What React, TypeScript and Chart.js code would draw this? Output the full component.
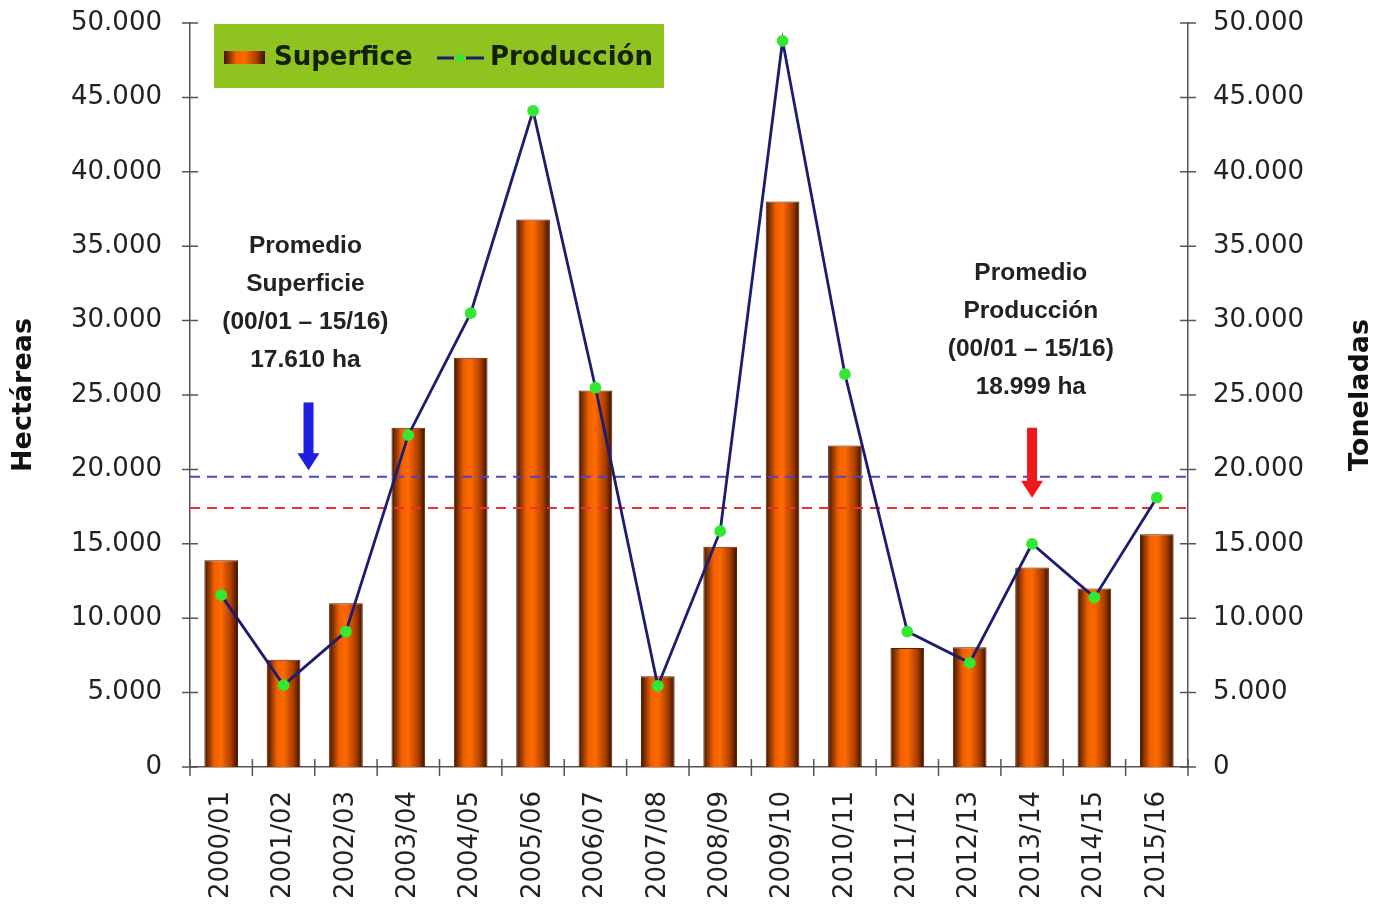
import React, { useEffect, useRef } from "react";
import { Chart, registerables } from "chart.js";

Chart.register(...registerables);

const categories = [
  "2000/01", "2001/02", "2002/03", "2003/04", "2004/05", "2005/06", "2006/07", "2007/08",
  "2008/09", "2009/10", "2010/11", "2011/12", "2012/13", "2013/14", "2014/15", "2015/16",
];
const superficie = [13900, 7200, 11000, 22800, 27500, 36800, 25300, 6100, 14800, 38000, 21600, 8000, 8050, 13400, 12000, 15650];
const produccion = [11550, 5500, 9100, 22300, 30500, 44100, 25500, 5450, 15850, 48800, 26400, 9100, 7000, 15000, 11400, 18100];
const yTicks = [0, 5000, 10000, 15000, 20000, 25000, 30000, 35000, 40000, 45000, 50000];
const avgLines = [
  { value: 19500, color: "#4848cc" },
  { value: 17400, color: "#ee3030" },
];
const arrows = [
  { index: 1.4, from: 24500, to: 19950, color: "#1e1ee0" },
  { index: 13.0, from: 22800, to: 18100, color: "#ee1a1a" },
];
const notes = [
  { index: 1.35, value: 35000, lines: ["Promedio", "Superficie", "(00/01 \u2013 15/16)", "17.610 ha"] },
  { index: 12.98, value: 33200, lines: ["Promedio", "Producción", "(00/01 \u2013 15/16)", "18.999 ha"] },
];
const legendLabels = ["Superfice", "Producción"];
const axisTitles = ["Hectáreas", "Toneladas"];

const fmt = (v: number) => String(v).replace(/\B(?=(\d{3})+(?!\d))/g, ".");
const BAR_PCT = 0.54;
const FONT_UI = "'DejaVu Sans', Verdana, sans-serif";

function barGradient(ctx: CanvasRenderingContext2D, x0: number, x1: number) {
  const g = ctx.createLinearGradient(x0, 0, x1, 0);
  g.addColorStop(0, "#3e1500");
  g.addColorStop(0.3, "#f06000");
  g.addColorStop(0.5, "#ff6a00");
  g.addColorStop(0.8, "#a83c00");
  g.addColorStop(1, "#361000");
  return g;
}

const decorPlugin = {
  id: "decor",
  afterDatasetDraw(chart: any, args: any) {
    if (args.meta.type !== "bar") return;
    const { ctx, chartArea } = chart;
    const y = chart.scales.y;
    ctx.save();
    ctx.lineWidth = 2;
    ctx.setLineDash([10, 7]);
    for (const l of avgLines) {
      const py = y.getPixelForValue(l.value);
      ctx.strokeStyle = l.color;
      ctx.beginPath();
      ctx.moveTo(chartArea.left, py);
      ctx.lineTo(chartArea.right, py);
      ctx.stroke();
    }
    ctx.restore();
  },
  afterDraw(chart: any) {
    const { ctx, chartArea } = chart;
    const x = chart.scales.x;
    const y = chart.scales.y;
    ctx.save();
    // crossing tick marks
    ctx.strokeStyle = "#555";
    ctx.lineWidth = 1.5;
    for (const t of yTicks) {
      const py = y.getPixelForValue(t);
      ctx.beginPath();
      ctx.moveTo(chartArea.left - 8, py);
      ctx.lineTo(chartArea.left + 8, py);
      ctx.moveTo(chartArea.right - 8, py);
      ctx.lineTo(chartArea.right + 8, py);
      ctx.stroke();
    }
    const cw = x.width / categories.length;
    for (let i = 0; i <= categories.length; i++) {
      const px = x.left + i * cw;
      ctx.beginPath();
      ctx.moveTo(px, chartArea.bottom - 8);
      ctx.lineTo(px, chartArea.bottom + 9);
      ctx.stroke();
    }
    // right axis title (reads bottom-to-top like the left one)
    const midY = (chartArea.top + chartArea.bottom) / 2;
    ctx.save();
    ctx.translate(chart.width - 12, midY);
    ctx.rotate(-Math.PI / 2);
    ctx.fillStyle = "#111";
    ctx.font = `bold 27px ${FONT_UI}`;
    ctx.textAlign = "center";
    ctx.textBaseline = "middle";
    ctx.fillText(axisTitles[1], 0, 0);
    ctx.restore();
    // arrows
    for (const a of arrows) {
      const px = x.getPixelForValue(a.index);
      const top = y.getPixelForValue(a.from);
      const tip = y.getPixelForValue(a.to);
      const headH = 17;
      ctx.fillStyle = a.color;
      ctx.fillRect(px - 5, top, 10, tip - top - headH + 1);
      ctx.beginPath();
      ctx.moveTo(px - 11, tip - headH);
      ctx.lineTo(px + 11, tip - headH);
      ctx.lineTo(px, tip);
      ctx.closePath();
      ctx.fill();
    }
    // notes
    ctx.fillStyle = "#222";
    ctx.font = "bold 24.5px 'Liberation Sans', Arial, sans-serif";
    ctx.textAlign = "center";
    ctx.textBaseline = "middle";
    for (const n of notes) {
      const px = x.getPixelForValue(n.index);
      const py = y.getPixelForValue(n.value);
      n.lines.forEach((s, i) => ctx.fillText(s, px, py + i * 38));
    }
    // legend
    const lx = chartArea.left + 24;
    const ly = chartArea.top + 1;
    ctx.fillStyle = "#8fc31f";
    ctx.fillRect(lx, ly, 450, 64);
    const cy = ly + 34;
    ctx.fillStyle = barGradient(ctx, lx + 10, lx + 51);
    ctx.fillRect(lx + 10, cy - 7, 41, 13);
    ctx.fillStyle = "#15200a";
    ctx.font = `bold 26px ${FONT_UI}`;
    ctx.textAlign = "left";
    ctx.fillText(legendLabels[0], lx + 60, cy);
    ctx.strokeStyle = "#1c1c70";
    ctx.lineWidth = 3;
    ctx.beginPath();
    ctx.moveTo(lx + 223, cy);
    ctx.lineTo(lx + 240, cy);
    ctx.moveTo(lx + 252, cy);
    ctx.lineTo(lx + 270, cy);
    ctx.stroke();
    ctx.fillStyle = "#33e833";
    ctx.beginPath();
    ctx.arc(lx + 246, cy, 4, 0, Math.PI * 2);
    ctx.fill();
    ctx.fillStyle = "#15200a";
    ctx.fillText(legendLabels[1], lx + 276, cy);
    ctx.restore();
  },
};

export default function App() {
  const ref = useRef<HTMLCanvasElement>(null);
  useEffect(() => {
    if (!ref.current) return;
    const tickFont = { family: FONT_UI, size: 26 };
    const titleFont = { family: FONT_UI, size: 27, weight: "bold" as const, lineHeight: 0.8 };
    const chart = new Chart(ref.current, {
      type: "bar",
      data: {
        labels: categories,
        datasets: [
          {
            type: "line",
            label: legendLabels[1],
            data: produccion,
            yAxisID: "y1",
            borderColor: "#1c1c70",
            borderWidth: 2.8,
            pointBackgroundColor: "#33e833",
            pointBorderColor: "#33e833",
            pointRadius: 4.5,
            tension: 0,
            order: 0,
          },
          {
            type: "bar",
            label: legendLabels[0],
            data: superficie,
            yAxisID: "y",
            order: 1,
            barPercentage: BAR_PCT,
            categoryPercentage: 1,
            borderColor: "#5a2000",
            borderWidth: 1,
            backgroundColor: (c: any) => {
              const ch = c.chart;
              const xs = ch.scales && ch.scales.x;
              if (!xs || c.type !== "data") return "#ff6600";
              const cx = xs.getPixelForValue(c.dataIndex);
              const w = (xs.width / categories.length) * BAR_PCT;
              if (!isFinite(cx) || !isFinite(w) || w <= 0) return "#ff6600";
              return barGradient(ch.ctx, cx - w / 2, cx + w / 2);
            },
          },
        ],
      },
      options: {
        responsive: false,
        animation: false,
        layout: { padding: { top: 23, left: 0, right: 0, bottom: 0 } },
        plugins: { legend: { display: false }, tooltip: { enabled: false } },
        scales: {
          x: {
            grid: { display: false },
            border: { display: true, color: "#555", width: 1.5 },
            ticks: { font: tickFont, color: "#222", maxRotation: 90, minRotation: 90, padding: 16, autoSkip: false },
            afterFit: (s: any) => { s.height = 141; s.paddingLeft = 0; s.paddingRight = 0; },
          },
          y: {
            position: "left",
            min: 0,
            max: 50000,
            grid: { display: false },
            border: { display: true, color: "#555", width: 1.5 },
            ticks: { stepSize: 5000, font: tickFont, color: "#222", padding: 20, callback: (v: any) => fmt(Number(v)) },
            title: { display: true, text: axisTitles[0], font: titleFont, color: "#111", padding: { top: 13, bottom: 0 } },
            afterFit: (s: any) => { s.width = 190; s.paddingTop = 0; s.paddingBottom = 0; },
          },
          y1: {
            position: "right",
            min: 0,
            max: 50000,
            grid: { display: false },
            border: { display: true, color: "#555", width: 1.5 },
            ticks: { stepSize: 5000, font: tickFont, color: "#222", padding: 17, callback: (v: any) => fmt(Number(v)) },
            title: { display: false },
            afterFit: (s: any) => { s.width = 185; s.paddingTop = 0; s.paddingBottom = 0; },
          },
        },
      },
      plugins: [decorPlugin],
    });
    return () => chart.destroy();
  }, []);
  return (
    <div style={{ position: "fixed", left: 0, top: 0, width: 1373, height: 908, background: "#fff" }}>
      <canvas ref={ref} width={1373} height={908} />
    </div>
  );
}
